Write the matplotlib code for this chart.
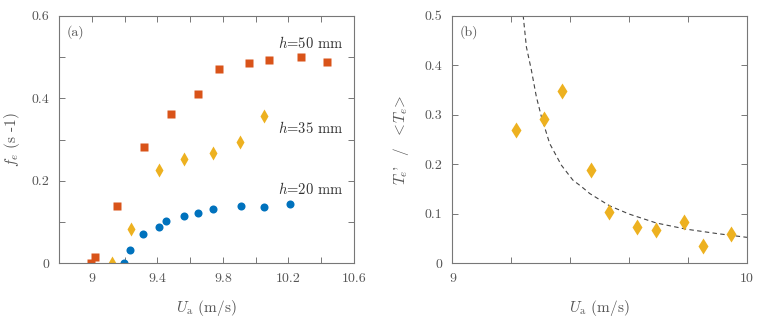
import numpy as np
import matplotlib
matplotlib.use("Agg")
import matplotlib.pyplot as plt
from matplotlib.ticker import MultipleLocator, FixedLocator, FuncFormatter

plt.rcParams['font.family'] = ['cmr10', 'DejaVu Serif']
plt.rcParams['mathtext.fontset'] = 'cm'
plt.rcParams['axes.formatter.use_mathtext'] = True

# panel (a): shedding frequency vs air speed
u50 = [8.996, 9.017, 9.15, 9.32, 9.482, 9.646, 9.777, 9.958, 10.08, 10.28, 10.435]
f50 = [0.0, 0.016, 0.139, 0.283, 0.362, 0.411, 0.472, 0.485, 0.493, 0.500, 0.487]
u35 = [9.122, 9.241, 9.412, 9.563, 9.738, 9.907, 10.05]
f35 = [0.0, 0.084, 0.226, 0.252, 0.267, 0.294, 0.356]
u20 = [9.198, 9.231, 9.313, 9.41, 9.454, 9.563, 9.646, 9.738, 9.91, 10.05, 10.21]
f20 = [0.0, 0.033, 0.072, 0.087, 0.103, 0.115, 0.121, 0.131, 0.138, 0.136, 0.143]

# panel (b): period fluctuation
ub = [9.215, 9.31, 9.372, 9.469, 9.533, 9.628, 9.692, 9.787, 9.851, 9.947]
tb = [0.269, 0.291, 0.348, 0.188, 0.104, 0.073, 0.068, 0.084, 0.035, 0.060]
# dashed curve
ufit = [9.24, 9.251, 9.268, 9.285, 9.302, 9.33, 9.37, 9.409, 9.438, 9.466,
        9.534, 9.60, 9.692, 9.794, 9.90, 10.0]
tfit = [0.501, 0.437, 0.390, 0.336, 0.296, 0.242, 0.198, 0.168, 0.155, 0.141,
        0.116, 0.0995, 0.0815, 0.0690, 0.060, 0.0525]

red = '#D95319'
yel = '#EDB120'
blu = '#0072BD'
txt = '#555555'
edge = '#777777'

fig = plt.figure(figsize=(7.63, 3.2), dpi=100)
ax1 = fig.add_axes([0.0777, 0.177, 0.386, 0.774])
ax2 = fig.add_axes([0.593, 0.177, 0.386, 0.774])

ax1.plot(u50, f50, 's', color=red, ms=5.2, mec='none')
ax1.plot(u35, f35, 'd', color=yel, ms=7, mec='none')
ax1.plot(u20, f20, 'o', color=blu, ms=5.8, mec='none')
for yy, lab in [(0.533, '50'), (0.329, '35'), (0.181, '20')]:
    ax1.text(10.536, yy, '$h$=' + lab + ' mm', ha='right', va='center',
             fontsize=10.5, color='#333333')
ax1.text(0.025, 0.933, '(a)', transform=ax1.transAxes, ha='left', va='center', fontsize=10, color=txt)
ax1.set_xlim(8.8, 10.6)
ax1.set_ylim(0, 0.6)
ax1.xaxis.set_major_locator(FixedLocator([9, 9.4, 9.8, 10.2, 10.6]))
ax1.xaxis.set_minor_locator(MultipleLocator(0.2))
ax1.yaxis.set_major_locator(MultipleLocator(0.2))
ax1.yaxis.set_minor_locator(MultipleLocator(0.1))
ax1.set_xlabel(r'$U_{\rm a}$ (m/s)', fontsize=11, color=txt, labelpad=9)
ax1.set_ylabel(r'$f_e$ (s -1)', fontsize=11, color=txt, labelpad=7)

ax2.plot(ufit, tfit, '--', color='#444444', lw=0.8, dashes=(4, 3))
ax2.plot(ub, tb, 'd', color=yel, ms=8, mec='none')
ax2.text(0.025, 0.933, '(b)', transform=ax2.transAxes, ha='left', va='center', fontsize=10, color=txt)
ax2.set_xlim(9, 10)
ax2.set_ylim(0, 0.5)
ax2.xaxis.set_major_locator(FixedLocator([9, 10]))
ax2.xaxis.set_minor_locator(MultipleLocator(0.2))
ax2.yaxis.set_major_locator(MultipleLocator(0.1))
ax2.set_xlabel(r'$U_{\rm a}$ (m/s)', fontsize=11, color=txt, labelpad=9)
ax2.set_ylabel(r"$T_e$'  /  $<\!T_e\!>$", fontsize=11, color=txt, labelpad=10)

fmt = FuncFormatter(lambda v, p: '%g' % round(v, 3))
for ax in (ax1, ax2):
    ax.xaxis.set_major_formatter(fmt)
    ax.yaxis.set_major_formatter(fmt)
    ax.tick_params(which='both', direction='in', top=True, right=True,
                   color=edge, labelcolor=txt, labelsize=10, width=0.7)
    ax.tick_params(which='major', length=4, pad=7)
    ax.tick_params(which='minor', length=4)
    for s in ax.spines.values():
        s.set_color(edge)
        s.set_linewidth(0.8)

fig.savefig('out.png', dpi=100)
